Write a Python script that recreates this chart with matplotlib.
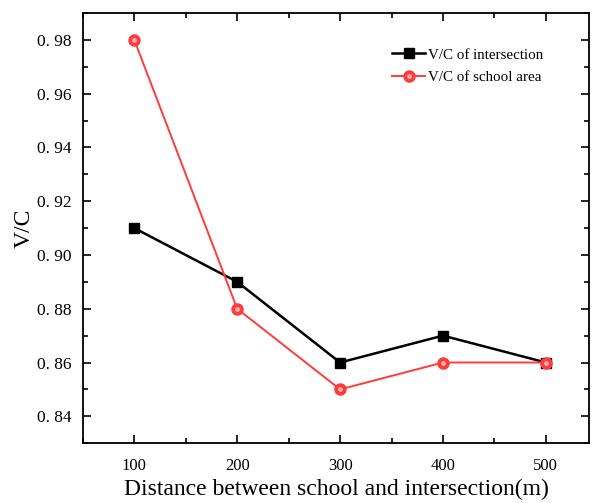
import matplotlib
matplotlib.use("Agg")
import matplotlib.pyplot as plt
from matplotlib.ticker import MultipleLocator, FuncFormatter
from matplotlib.lines import Line2D

distance = [100, 200, 300, 400, 500]
vc_intersection = [0.91, 0.89, 0.86, 0.87, 0.86]
vc_school = [0.98, 0.88, 0.85, 0.86, 0.86]

plt.rcParams['font.family'] = ['Liberation Serif', 'DejaVu Serif']

fig = plt.figure(figsize=(5.92, 5.03), dpi=100)
ax = fig.add_axes([0.140, 0.119, 0.855, 0.855])

red = '#ff3b3b'
ax.plot(distance, vc_intersection, color='black', lw=1.8, marker='s', ms=7,
        label='V/C of intersection', zorder=3)
ax.plot(distance, vc_school, color=red, lw=1.4, marker='o', ms=8,
        mec=red, mfc=red, zorder=4)
# little highlight on the red balls
ax.plot(distance, vc_school, ls='none', marker='o', ms=3.5, mfc='#ffb0b0',
        mec='none', zorder=5)

ax.set_xlim(50, 542)
ax.set_ylim(0.83, 0.99)
ax.xaxis.set_major_locator(MultipleLocator(100))
ax.xaxis.set_minor_locator(MultipleLocator(50))
ax.yaxis.set_major_locator(MultipleLocator(0.02))
ax.yaxis.set_minor_locator(MultipleLocator(0.01))
ax.yaxis.set_major_formatter(FuncFormatter(lambda v, p: '0. {:02.0f}'.format(v * 100)))

ax.tick_params(which='both', direction='in', top=True, right=True, width=1.2)
ax.tick_params(which='major', length=6)
ax.tick_params(which='minor', length=3.5)
ax.tick_params(axis='y', labelsize=12.5, pad=8)
ax.tick_params(axis='x', labelsize=12, pad=11)
for s in ax.spines.values():
    s.set_linewidth(1.3)

ax.set_xlabel('Distance between school and intersection(m)', fontsize=17, labelpad=3)
ax.set_ylabel('V/C', fontsize=17, labelpad=2)

handles = [
    Line2D([], [], color='black', lw=1.8, marker='s', ms=7),
    (Line2D([], [], color=red, lw=1.4, marker='o', ms=8),
     Line2D([], [], ls='none', marker='o', ms=3.5, mfc='#ffb0b0', mec='none')),
]
ax.legend(handles, ['V/C of intersection', 'V/C of school area'],
          loc='upper left', bbox_to_anchor=(0.585, 0.95), frameon=False,
          fontsize=10.8, handlelength=2.2, handletextpad=0.2, labelspacing=0.6)

fig.savefig('out.png', dpi=100)
